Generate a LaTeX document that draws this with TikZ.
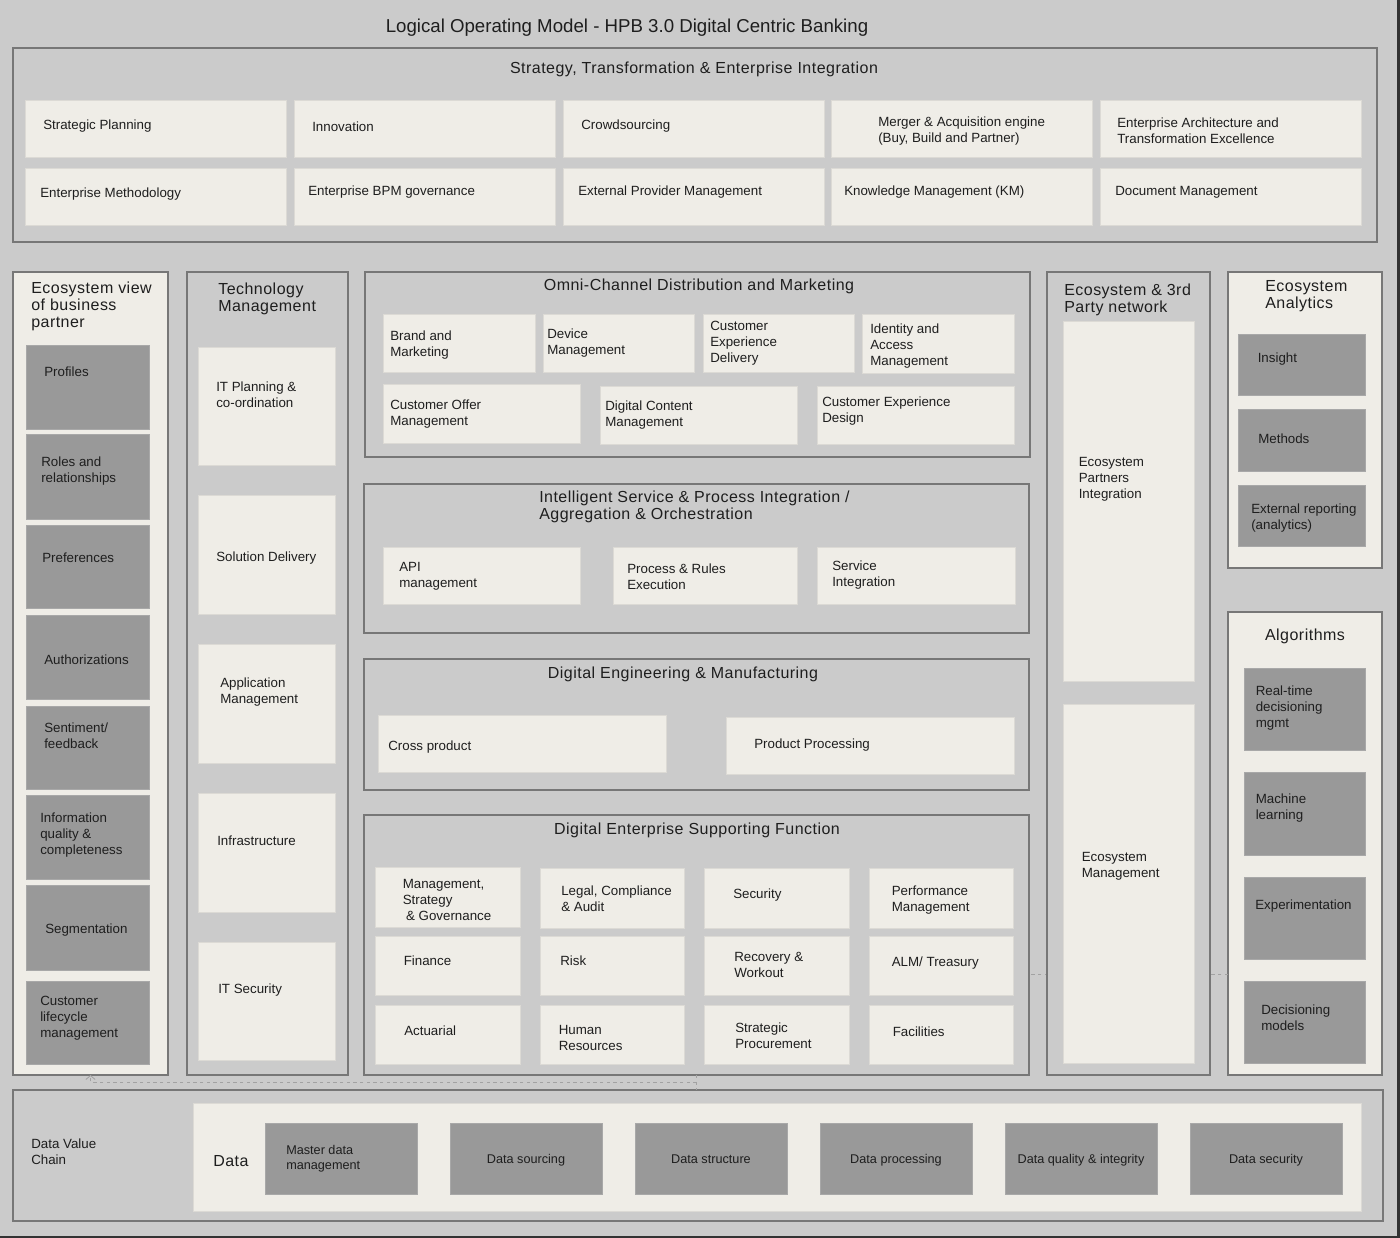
\documentclass[tikz,border=0pt]{standalone}
\usepackage{fontspec}
\setmainfont{Liberation Sans}
\newfontfamily\hdrfont[LetterSpace=3]{Liberation Sans}
\usetikzlibrary{arrows.meta}
\definecolor{bgc}{HTML}{CBCBCB}
\definecolor{lite}{HTML}{EFEDE7}
\definecolor{darkc}{HTML}{999999}
\definecolor{edgec}{HTML}{777777}
\definecolor{ink}{HTML}{1E1E1E}
\definecolor{dashc}{HTML}{A2A2A2}
\definecolor{rimc}{HTML}{333333}
\tikzset{
  frame/.style={draw=edgec, line width=1.4pt, fill=bgc},
  liteframe/.style={draw=edgec, line width=1.4pt, fill=lite},
  litebox/.style={fill=lite, draw=lite!92!black, line width=0.4pt},
  darkbox/.style={fill=darkc, draw=darkc!85!white, line width=0.5pt},
  txtbase/.style={text=ink, inner sep=0pt, yshift=-1.2pt},
  hdr/.style={txtbase, font=\hdrfont\fontsize{12}{12.75}\selectfont},
  lbl/.style={txtbase, font=\fontsize{10}{12}\selectfont},
  smalllbl/.style={txtbase, font=\fontsize{9.5}{11.3}\selectfont},
  datalbl/.style={smalllbl, text height=1.55ex, text depth=0.45ex},
  titlelbl/.style={txtbase, font=\fontsize{14}{16}\selectfont},
  conn/.style={draw=dashc, line width=0.6pt, dash pattern=on 2.5pt off 2.5pt},
}
\newcommand\mybox[6]{\node[#2, anchor=north west, inner sep=0pt, outer sep=0pt,
  minimum width={(#5-#3)*0.75pt}, minimum height={(#6-#4)*0.75pt}] (#1) at (#3,#4) {};}
\newcommand\mytl[5]{\node[#2, anchor=west, align=left] (#1) at (#3,#4) {#5};}
\newcommand\mytc[5]{\node[#2, anchor=center, align=center] (#1) at (#3,#4) {#5};}
\begin{document}
\begin{tikzpicture}[x=0.75pt, y=-0.75pt]
\useasboundingbox (0,0) rectangle (1400,1238);
\fill[bgc] (0,0) rectangle (1400,1238);
\fill[rimc] (1397,0) rectangle (1400,1238);
\fill[rimc] (0,1235.5) rectangle (1400,1238);

% title
\mytc{title}{titlelbl}{627}{26}{Logical Operating Model - HPB 3.0 Digital Centric Banking}

% Strategy block
\mybox{strat}{frame}{13}{48}{1377}{242}
\mytc{stratH}{hdr}{694}{68}{Strategy, Transformation \& Enterprise Integration}
\mybox{s1}{litebox}{25}{100}{286}{157}
\mybox{s2}{litebox}{294}{100}{555}{157}
\mybox{s3}{litebox}{563}{100}{824}{157}
\mybox{s4}{litebox}{831}{100}{1092}{157}
\mybox{s5}{litebox}{1100}{100}{1361}{157}
\mybox{s6}{litebox}{25}{168}{286}{225}
\mybox{s7}{litebox}{294}{168}{555}{225}
\mybox{s8}{litebox}{563}{168}{824}{225}
\mybox{s9}{litebox}{831}{168}{1092}{225}
\mybox{s10}{litebox}{1100}{168}{1361}{225}
\mytl{s1t}{lbl}{43}{124}{Strategic Planning}
\mytl{s2t}{lbl}{312}{125}{Innovation}
\mytl{s3t}{lbl}{581}{124}{Crowdsourcing}
\mytl{s4t}{lbl}{878}{129}{Merger \& Acquisition engine\\(Buy, Build and Partner)}
\mytl{s5t}{lbl}{1117}{129}{Enterprise Architecture and\\Transformation Excellence}
\mytl{s6t}{lbl}{40}{192}{Enterprise Methodology}
\mytl{s7t}{lbl}{308}{190}{Enterprise BPM governance}
\mytl{s8t}{lbl}{578}{190}{External Provider Management}
\mytl{s9t}{lbl}{844}{190}{Knowledge Management (KM)}
\mytl{s10t}{lbl}{1115}{191}{Document Management}

% Ecosystem view of business partner
\mybox{eco}{liteframe}{13}{272}{168}{1075}
\mytl{ecoH}{hdr}{31}{305}{Ecosystem view\\of business\\partner}
\mybox{e1}{darkbox}{26}{345}{149}{429}
\mybox{e2}{darkbox}{26}{434}{149}{519}
\mybox{e3}{darkbox}{26}{525}{149}{608}
\mybox{e4}{darkbox}{26}{615}{149}{699}
\mybox{e5}{darkbox}{26}{706}{149}{789}
\mybox{e6}{darkbox}{26}{795}{149}{879}
\mybox{e7}{darkbox}{26}{885}{149}{970}
\mybox{e8}{darkbox}{26}{981}{149}{1064}
\mytl{e1t}{lbl}{44}{370}{Profiles}
\mytl{e2t}{lbl}{41}{469}{Roles and\\relationships}
\mytl{e3t}{lbl}{42}{556}{Preferences}
\mytl{e4t}{lbl}{44}{658}{Authorizations}
\mytl{e5t}{lbl}{44}{734.5}{Sentiment/\\feedback}
\mytl{e6t}{lbl}{40}{833.5}{Information\\quality \&\\completeness}
\mytl{e7t}{lbl}{45}{928}{Segmentation}
\mytl{e8t}{lbl}{40}{1017}{Customer\\lifecycle\\management}

% Technology Management
\mybox{tech}{frame}{187}{272}{348}{1075}
\mytl{techH}{hdr}{218}{297.5}{Technology\\Management}
\mybox{t1}{litebox}{198}{347}{335}{465}
\mybox{t2}{litebox}{198}{495}{335}{614}
\mybox{t3}{litebox}{198}{644}{335}{763}
\mybox{t4}{litebox}{198}{793}{335}{912}
\mybox{t5}{litebox}{198}{942}{335}{1060}
\mytl{t1t}{lbl}{216}{393}{IT Planning \&\\co-ordination}
\mytl{t2t}{lbl}{216}{556}{Solution Delivery}
\mytl{t3t}{lbl}{220}{690}{Application\\Management}
\mytl{t4t}{lbl}{217}{839}{Infrastructure}
\mytl{t5t}{lbl}{218}{988}{IT Security}

% Omni-Channel
\mybox{omni}{frame}{365}{272}{1030}{457}
\mytc{omniH}{hdr}{699}{285}{Omni-Channel Distribution and Marketing}
\mybox{o1}{litebox}{383}{314}{535}{372}
\mybox{o2}{litebox}{543}{314}{694}{372}
\mybox{o3}{litebox}{703}{314}{854}{372}
\mybox{o4}{litebox}{862}{314}{1014}{373}
\mybox{o5}{litebox}{383}{384}{580}{443}
\mybox{o6}{litebox}{600}{386}{797}{444}
\mybox{o7}{litebox}{817}{386}{1014}{444}
\mytl{o1t}{lbl}{390}{343}{Brand and\\Marketing}
\mytl{o2t}{lbl}{547}{341.5}{Device\\Management}
\mytl{o3t}{lbl}{710}{342}{Customer\\Experience\\Delivery}
\mytl{o4t}{lbl}{870}{344.5}{Identity and\\Access\\Management}
\mytl{o5t}{lbl}{390}{412}{Customer Offer\\Management}
\mytl{o6t}{lbl}{605}{413}{Digital Content\\Management}
\mytl{o7t}{lbl}{822}{409.5}{Customer Experience\\Design}

% Intelligent Service
\mybox{intel}{frame}{364}{484}{1029}{633}
\mytl{intelH}{hdr}{539}{505.5}{Intelligent Service \& Process Integration /\\Aggregation \& Orchestration}
\mybox{i1}{litebox}{383}{547}{580}{604}
\mybox{i2}{litebox}{613}{547}{797}{604}
\mybox{i3}{litebox}{817}{547}{1015}{604}
\mytl{i1t}{lbl}{399}{574.5}{API\\management}
\mytl{i2t}{lbl}{627}{575.5}{Process \& Rules\\Execution}
\mytl{i3t}{lbl}{832}{573}{Service\\Integration}

% Digital Engineering & Manufacturing
\mybox{dem}{frame}{364}{659}{1029}{790}
\mytc{demH}{hdr}{683}{673}{Digital Engineering \& Manufacturing}
\mybox{d1}{litebox}{378}{715}{666}{772}
\mybox{d2}{litebox}{726}{717}{1014}{774}
\mytl{d1t}{lbl}{388}{745}{Cross product}
\mytl{d2t}{lbl}{754}{743}{Product Processing}

% Digital Enterprise Supporting Function
\mybox{dsf}{frame}{364}{815}{1029}{1075}
\mytc{dsfH}{hdr}{697}{829}{Digital Enterprise Supporting Function}
\mybox{f1}{litebox}{375}{867}{520}{927}
\mybox{f2}{litebox}{540}{868}{684}{928}
\mybox{f3}{litebox}{704}{868}{849}{928}
\mybox{f4}{litebox}{869}{868}{1013}{928}
\mybox{f5}{litebox}{375}{936}{520}{995}
\mybox{f6}{litebox}{540}{936}{684}{995}
\mybox{f7}{litebox}{704}{936}{849}{995}
\mybox{f8}{litebox}{869}{936}{1013}{995}
\mybox{f9}{litebox}{375}{1005}{520}{1064}
\mybox{f10}{litebox}{540}{1005}{684}{1064}
\mybox{f11}{litebox}{704}{1005}{849}{1064}
\mybox{f12}{litebox}{869}{1005}{1013}{1064}
\mytl{f1t}{lbl}{402.5}{898.5}{Management,\\Strategy\\\hspace*{0.25em}\& Governance}
\mytl{f2t}{lbl}{561}{897}{Legal, Compliance\\\& Audit}
\mytl{f3t}{lbl}{733}{893}{Security}
\mytl{f4t}{lbl}{891.5}{898.5}{Performance\\Management}
\mytl{f5t}{lbl}{403.5}{959}{Finance}
\mytl{f6t}{lbl}{560}{959}{Risk}
\mytl{f7t}{lbl}{734}{963}{Recovery \&\\Workout}
\mytl{f8t}{lbl}{891.5}{961.5}{ALM/ Treasury}
\mytl{f9t}{lbl}{404}{1029}{Actuarial}
\mytl{f10t}{lbl}{558.5}{1036.5}{Human\\Resources}
\mytl{f11t}{lbl}{735}{1034.5}{Strategic\\Procurement}
\mytl{f12t}{lbl}{892.5}{1030}{Facilities}

% Ecosystem Analytics
\mybox{ana}{liteframe}{1228}{272}{1382}{568}
\mytl{anaH}{hdr}{1265}{295}{Ecosystem\\Analytics}
\mybox{a1}{darkbox}{1238}{334}{1365}{395}
\mybox{a2}{darkbox}{1238}{409}{1365}{471}
\mybox{a3}{darkbox}{1238}{485}{1365}{546}
\mytl{a1t}{lbl}{1257.5}{357.5}{Insight}
\mytl{a2t}{lbl}{1258}{437}{Methods}
\mytl{a3t}{lbl}{1251}{516}{External reporting\\(analytics)}

% Algorithms
\mybox{algo}{liteframe}{1228}{612}{1382}{1075}
\mytc{algoH}{hdr}{1305}{635}{Algorithms}
\mybox{g1}{darkbox}{1244}{668}{1365}{750}
\mybox{g2}{darkbox}{1244}{772}{1365}{855}
\mybox{g3}{darkbox}{1244}{877}{1365}{959}
\mybox{g4}{darkbox}{1244}{981}{1365}{1063}
\mytl{g1t}{lbl}{1255.5}{706.5}{Real-time\\decisioning\\mgmt}
\mytl{g2t}{lbl}{1255.5}{806}{Machine\\learning}
\mytl{g3t}{lbl}{1255}{904}{Experimentation}
\mytl{g4t}{lbl}{1261}{1016.5}{Decisioning\\models}

% dashed link behind the ecosystem network column
\draw[conn] (algo.west |- 0,974) -- (dsf.east |- 0,974);

% Ecosystem & 3rd Party network
\mybox{net}{frame}{1047}{272}{1210}{1075}
\mytl{netH}{hdr}{1064}{298}{Ecosystem \& 3rd\\Party network}
\mybox{n1}{litebox}{1063}{321}{1194}{681}
\mybox{n2}{litebox}{1063}{704}{1194}{1063}
\mytl{n1t}{lbl}{1078.5}{478}{Ecosystem\\Partners\\Integration}
\mytl{n2t}{lbl}{1081.5}{865}{Ecosystem\\Management}

% Data Value Chain
\mybox{dvc}{frame}{13}{1090}{1383}{1221}
\mybox{dvin}{litebox}{193}{1103}{1361}{1211}
\mytl{dvcT}{lbl}{31}{1150}{Data Value\\Chain}
\mytl{dataT}{hdr}{213}{1159.5}{Data}
\mybox{v1}{darkbox}{265}{1123}{417}{1194}
\mybox{v2}{darkbox}{450}{1123}{602}{1194}
\mybox{v3}{darkbox}{635}{1123}{787}{1194}
\mybox{v4}{darkbox}{820}{1123}{972}{1194}
\mybox{v5}{darkbox}{1005}{1123}{1157}{1194}
\mybox{v6}{darkbox}{1190}{1123}{1342}{1194}
\mytl{v1t}{smalllbl}{286}{1157.5}{Master data\\management}
\node[datalbl] (v2t) at (v2.center) {Data sourcing};
\node[datalbl] (v3t) at (v3.center) {Data structure};
\node[datalbl] (v4t) at (v4.center) {Data processing};
\node[datalbl] (v5t) at (v5.center) {Data quality \& integrity};
\node[datalbl] (v6t) at (v6.center) {Data security};

% dashed connector from data value chain to ecosystem view
\coordinate (junc) at (dsf.south |- 0,1082);
\draw[conn] (dsf.south) -- (dsf.south |- dvc.north);
\draw[conn, -{Straight Barb[length=3pt, width=7pt, line width=0.6pt]}] (junc) -| (eco.south);
\end{tikzpicture}
\end{document}
